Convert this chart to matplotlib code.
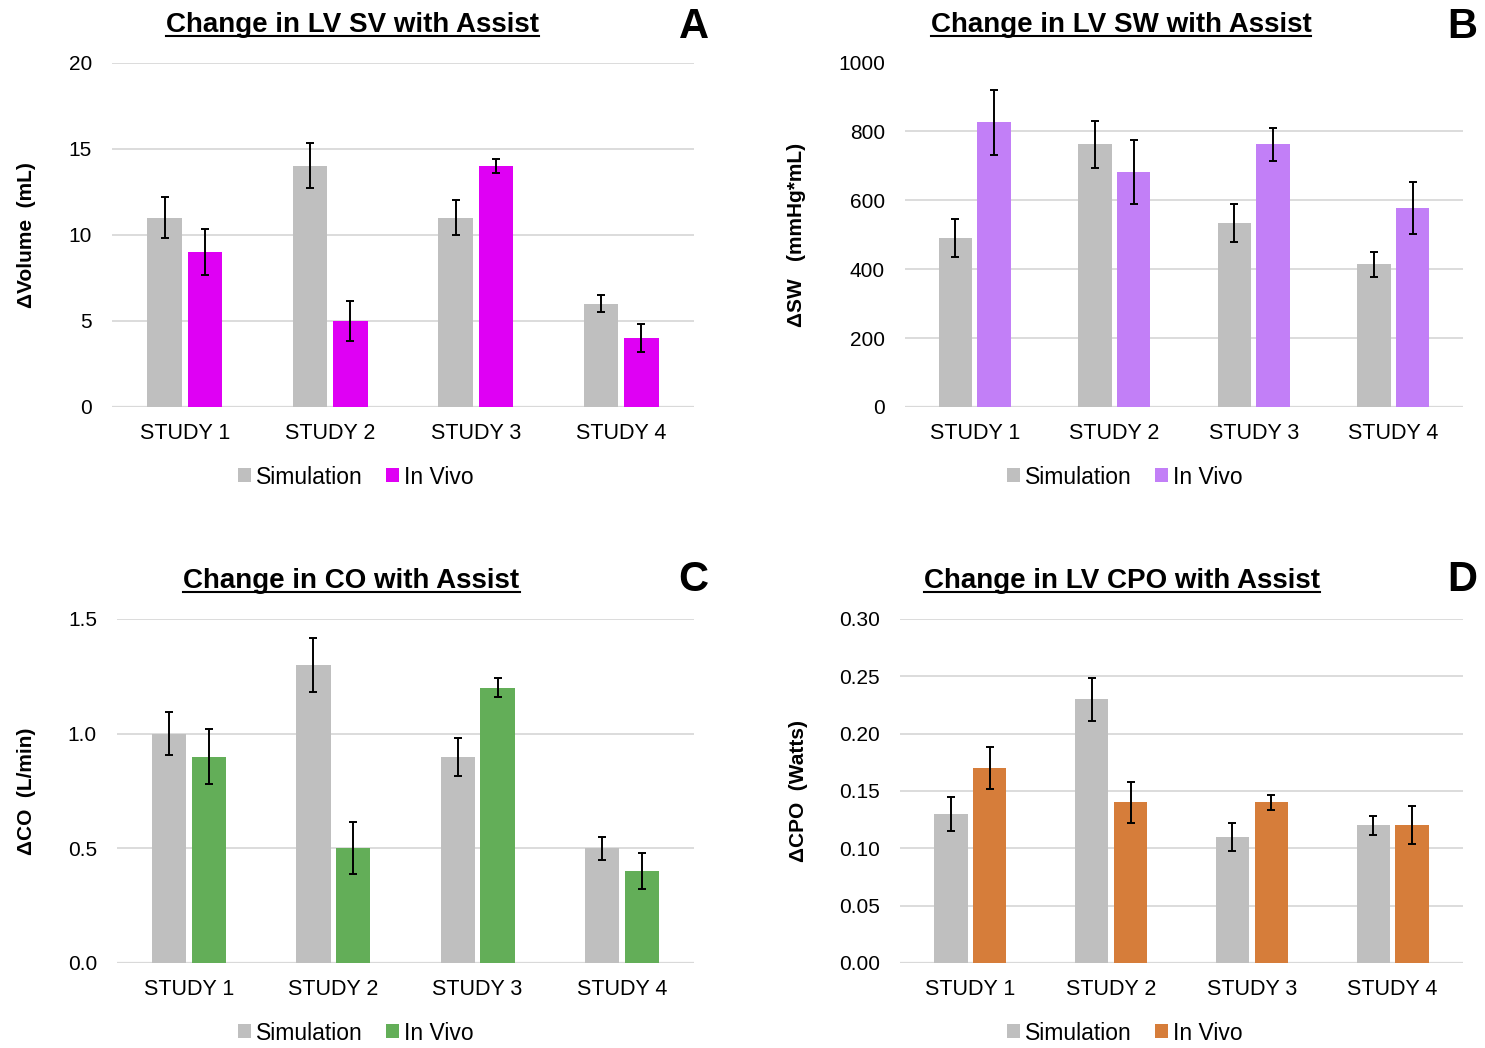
import matplotlib
matplotlib.use("Agg")
import matplotlib.pyplot as plt
import numpy as np
from matplotlib.patches import Patch
from matplotlib.lines import Line2D

plt.rcParams['font.family'] = ['Liberation Sans', 'DejaVu Sans']

studies = ['STUDY 1', 'STUDY 2', 'STUDY 3', 'STUDY 4']

sv_sim = [11, 14, 11, 6]
sv_sim_err = [1.2, 1.3, 1.0, 0.5]
sv_vivo = [9, 5, 14, 4]
sv_vivo_err = [1.35, 1.15, 0.4, 0.8]

sw_sim = [490, 762, 534, 414]
sw_sim_err = [55, 69, 55, 37]
sw_vivo = [826, 682, 762, 578]
sw_vivo_err = [95, 92, 49, 76]

co_sim = [1.0, 1.3, 0.9, 0.5]
co_sim_err = [0.095, 0.118, 0.083, 0.05]
co_vivo = [0.9, 0.5, 1.2, 0.4]
co_vivo_err = [0.12, 0.113, 0.042, 0.079]

cpo_sim = [0.13, 0.23, 0.11, 0.12]
cpo_sim_err = [0.0145, 0.0186, 0.0122, 0.0083]
cpo_vivo = [0.17, 0.14, 0.14, 0.12]
cpo_vivo_err = [0.0185, 0.018, 0.0064, 0.0166]

W, H = 1485, 1048
fig = plt.figure(figsize=(W / 100, H / 100), dpi=100)

SIM_COLOR = '#BFBFBF'
GRID = '#D9D9D9'


def px_axes(x0, x1, ytop, ybot):
    return fig.add_axes([x0 / W, 1 - ybot / H, (x1 - x0) / W, (ybot - ytop) / H])


panels = [
    dict(box=(112, 694, 62.5, 407), sim=sv_sim, se=sv_sim_err, viv=sv_vivo, ve=sv_vivo_err,
         color='#DF00F4', ylim=20, ticks=np.arange(0, 21, 5), fmt='{:.0f}',
         ylabel='\u0394Volume  (mL)', ylx=26.5,
         title='Change in LV SV with Assist', tx=352, tb=32.5, letter='A', lx=694, lb=38,
         legx=356, legy=477),
    dict(box=(905, 1463, 62.5, 407), sim=sw_sim, se=sw_sim_err, viv=sw_vivo, ve=sw_vivo_err,
         color='#C27FF7', ylim=1000, ticks=np.arange(0, 1001, 200), fmt='{:.0f}',
         ylabel='\u0394SW   (mmHg*mL)', ylx=797,
         title='Change in LV SW with Assist', tx=1121, tb=32.5, letter='B', lx=1462, lb=38,
         legx=1125, legy=477),
    dict(box=(117, 694, 619, 963), sim=co_sim, se=co_sim_err, viv=co_vivo, ve=co_vivo_err,
         color='#63AE58', ylim=1.5, ticks=np.arange(0, 1.51, 0.5), fmt='{:.1f}',
         ylabel='\u0394CO  (L/min)', ylx=26.5,
         title='Change in CO with Assist', tx=351.5, tb=588.5, letter='C', lx=693, lb=591,
         legx=356, legy=1033),
    dict(box=(900, 1463, 619, 963), sim=cpo_sim, se=cpo_sim_err, viv=cpo_vivo, ve=cpo_vivo_err,
         color='#D67D3A', ylim=0.30, ticks=np.arange(0, 0.301, 0.05), fmt='{:.2f}',
         ylabel='\u0394CPO  (Watts)', ylx=798,
         title='Change in LV CPO with Assist', tx=1122, tb=588.5, letter='D', lx=1462, lb=591,
         legx=1125, legy=1033),
]

x = np.arange(len(studies))
bw = 0.237
off = 0.138
titles = []

for p in panels:
    x0, x1, yt, yb = p['box']
    ax = px_axes(x0, x1, yt, yb)
    ax.bar(x - off, p['sim'], bw, color=SIM_COLOR, zorder=2)
    ax.bar(x + off, p['viv'], bw, color=p['color'], zorder=2)
    ax.errorbar(x - off, p['sim'], yerr=p['se'], fmt='none', ecolor='black',
                elinewidth=1.4, capsize=3.2, capthick=1.4, zorder=3)
    ax.errorbar(x + off, p['viv'], yerr=p['ve'], fmt='none', ecolor='black',
                elinewidth=1.4, capsize=3.2, capthick=1.4, zorder=3)
    ax.set_xlim(-0.5, len(studies) - 0.5)
    ax.set_ylim(0, p['ylim'])
    ax.set_yticks(p['ticks'])
    ax.set_yticklabels([p['fmt'].format(t) for t in p['ticks']])
    ax.set_xticks(x)
    ax.set_xticklabels(studies)
    ax.tick_params(axis='y', length=0, pad=14.4, labelsize=15)
    ax.tick_params(axis='x', length=0, pad=11.5, labelsize=15.5)
    for s in ax.spines.values():
        s.set_visible(False)
    ax.grid(axis='y', color=GRID, linewidth=1.3, zorder=0)
    ax.set_axisbelow(True)
    ax.axhline(0, color=GRID, linewidth=1.6, zorder=1)

    fig.text(p['ylx'] / W, 1 - ((yt + yb) / 2) / H, p['ylabel'], rotation=90,
             ha='center', va='center', fontsize=15, fontweight='bold')
    t = fig.text(p['tx'] / W, 1 - p['tb'] / H, p['title'], ha='center', va='baseline',
                 fontsize=20, fontweight='bold')
    titles.append((t, p['tb']))
    fig.text(p['lx'] / W, 1 - p['lb'] / H, p['letter'], ha='center', va='baseline',
             fontsize=30, fontweight='bold')

    handles = [Patch(facecolor=SIM_COLOR, edgecolor='none', label='Simulation'),
               Patch(facecolor=p['color'], edgecolor='none', label='In Vivo')]
    fig.legend(handles=handles, loc='center', bbox_to_anchor=(p['legx'] / W, 1 - p['legy'] / H),
               ncol=2, frameon=False, fontsize=16.5, handlelength=0.55, handleheight=0.55,
               handletextpad=0.25, columnspacing=1.0, borderaxespad=0)

# underline the panel titles
fig.canvas.draw()
renderer = fig.canvas.get_renderer()
for t, base in titles:
    bb = t.get_window_extent(renderer)
    yline = 1 - (base + 3.8) / H
    fig.add_artist(Line2D([bb.x0 / W, bb.x1 / W], [yline, yline], transform=fig.transFigure,
                          color='black', linewidth=1.5))

fig.savefig('out.png', dpi=100, facecolor='white')
